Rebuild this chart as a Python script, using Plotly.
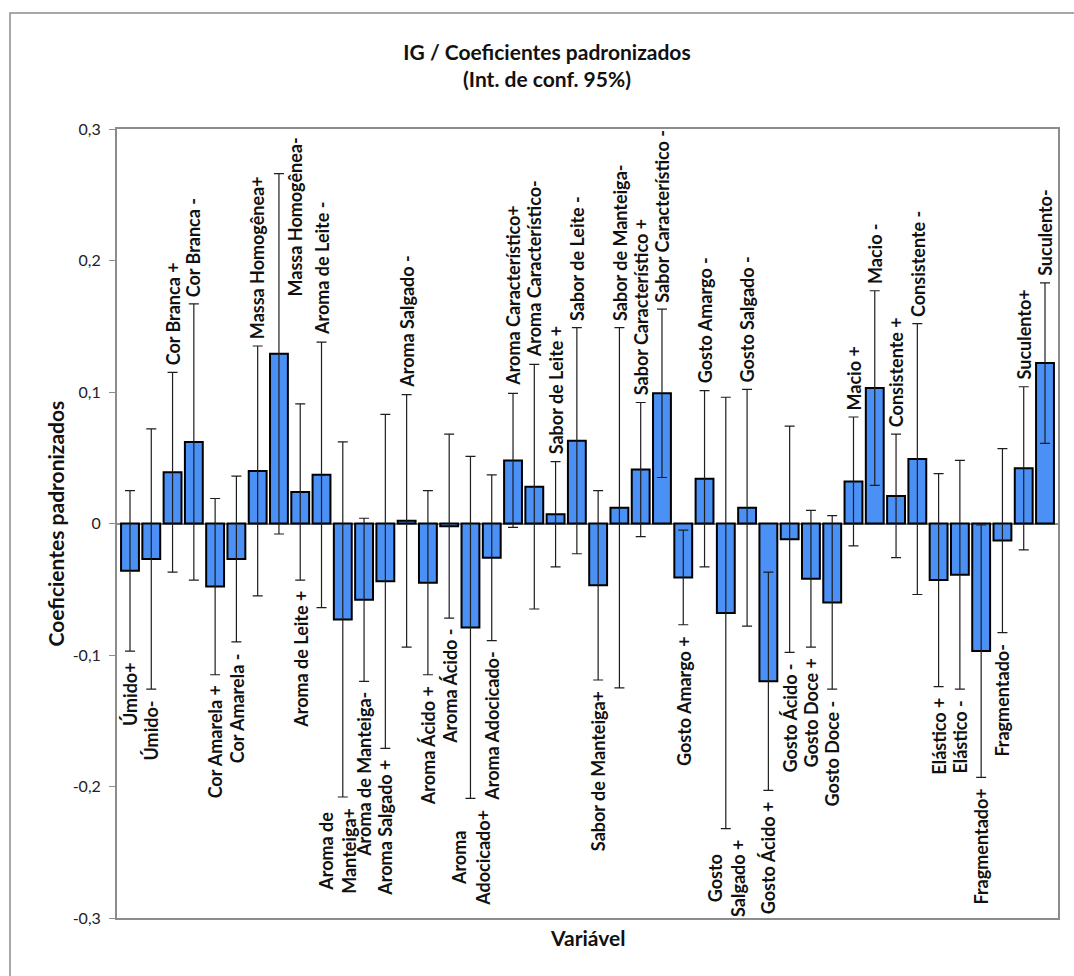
import plotly.graph_objects as go

# Standardized coefficients (IG) with 95% confidence half-widths
variables = [
    "Úmido+", "Úmido-", "Cor Branca +", "Cor Branca -", "Cor Amarela +", "Cor Amarela -",
    "Massa Homogênea+", "Massa Homogênea-", "Aroma de Leite +", "Aroma de Leite -",
    "Aroma de<br>Manteiga+", "Aroma de Manteiga-", "Aroma Salgado +", "Aroma Salgado -",
    "Aroma Ácido +", "Aroma Ácido -", "Aroma<br>Adocicado+", "Aroma Adocicado-",
    "Aroma Característico+", "Aroma Característico-", "Sabor de Leite +", "Sabor de Leite -",
    "Sabor de Manteiga+", "Sabor de Manteiga-", "Sabor Característico +", "Sabor Característico -",
    "Gosto Amargo +", "Gosto Amargo -", "Gosto<br>Salgado +", "Gosto Salgado -",
    "Gosto Ácido +", "Gosto Ácido -", "Gosto Doce +", "Gosto Doce -",
    "Macio +", "Macio -", "Consistente +", "Consistente -",
    "Elástico +", "Elástico -", "Fragmentado+", "Fragmentado-",
    "Suculento+", "Suculento-",
]

coefficients = [
    -0.036, -0.027, 0.039, 0.062, -0.048, -0.027,
    0.040, 0.129, 0.024, 0.037,
    -0.073, -0.058, -0.044, 0.002,
    -0.045, -0.002, -0.079, -0.026,
    0.048, 0.028, 0.007, 0.063,
    -0.047, 0.012, 0.041, 0.099,
    -0.041, 0.034, -0.068, 0.012,
    -0.120, -0.012, -0.042, -0.060,
    0.032, 0.103, 0.021, 0.049,
    -0.043, -0.039, -0.097, -0.013,
    0.042, 0.122,
]

ci_half = [
    0.061, 0.099, 0.076, 0.105, 0.067, 0.063,
    0.095, 0.137, 0.067, 0.101,
    0.135, 0.062, 0.127, 0.096,
    0.070, 0.070, 0.130, 0.063,
    0.051, 0.093, 0.040, 0.086,
    0.072, 0.137, 0.051, 0.064,
    0.036, 0.067, 0.164, 0.090,
    0.083, 0.086, 0.052, 0.066,
    0.049, 0.074, 0.047, 0.103,
    0.081, 0.087, 0.096, 0.070,
    0.062, 0.061,
]

y_ticks = [-0.3, -0.2, -0.1, 0, 0.1, 0.2, 0.3]
y_tick_text = ["-0,3", "-0,2", "-0,1", "0", "0,1", "0,2", "0,3"]

FONT = "Lato, 'Open Sans', sans-serif"
BAR_BLUE = "#4A90F5"
AXIS_GREY = "#8C8C8C"
INK = "#111111"

W, H = 1074, 976
M_L, M_R, M_T, M_B = 117, 16, 129, 58
PLOT_H = H - M_T - M_B
Y_MIN, Y_MAX = y_ticks[0], y_ticks[-1]
PX_PER_UNIT = PLOT_H / (Y_MAX - Y_MIN)

LABEL_SIZE = 18
CHAR_PX = 8.8          # rough advance of the bold label font
GAP_ABOVE, GAP_BELOW = 5, 9


def to_px(v):
    return M_T + (Y_MAX - v) * PX_PER_UNIT


fig = go.Figure(
    go.Bar(
        x=variables,
        y=coefficients,
        width=0.84,
        marker=dict(color=BAR_BLUE, line=dict(color="black", width=2)),
        error_y=dict(type="data", array=ci_half, visible=True,
                     color="#1E1E1E", thickness=1.2, width=5),
        showlegend=False,
    )
)

# --- place rotated data labels beyond the end of each confidence interval ---
placements = []
prev_tucked = False
for v, e in zip(coefficients, ci_half):
    upper, lower = v + e, v - e
    side = "above" if v >= 0 else "below"
    tucked = False
    if side == "above" and upper > 0.2:
        tucked = True            # too tall: put it beside the interval instead
    elif side == "above" and prev_tucked:
        side = "below"           # keep clear of the neighbour tucked beside
    placements.append(dict(side=side, tucked=tucked, upper=upper, lower=lower))
    prev_tucked = tucked


def span(i):
    p = placements[i]
    length = max(len(s) for s in variables[i].split("<br>")) * CHAR_PX
    if p["side"] == "below":
        start = to_px(p["lower"]) + 12
        return start, start + length
    end = to_px(p["upper"]) - 8
    return end - length, end


for i, (name, p) in enumerate(zip(variables, placements)):
    xshift = 0
    if p["tucked"]:
        pos = dict(y=Y_MAX, yanchor="top", yshift=-6)
        xshift = 16
    elif p["side"] == "above":
        pos = dict(y=p["upper"], yanchor="bottom", yshift=GAP_ABOVE)
    else:
        pos = dict(y=p["lower"], yanchor="top", yshift=-GAP_BELOW)
    # wrapped labels step aside when the next label sits on the same side
    if "<br>" in name and i + 1 < len(variables) and placements[i + 1]["side"] == p["side"]:
        a0, a1 = span(i)
        b0, b1 = span(i + 1)
        if a0 < b1 and b0 < a1:
            xshift = -6
    fig.add_annotation(
        x=name, text=name, textangle=-90, showarrow=False, xanchor="center",
        xshift=xshift, align="center",
        font=dict(family=FONT, size=LABEL_SIZE, color=INK, weight="bold"),
        **pos,
    )

# axis titles
fig.add_annotation(
    x=0.5, y=-0.025, xref="paper", yref="paper", text="Variável", showarrow=False,
    xanchor="center", yanchor="middle",
    font=dict(family=FONT, size=21, color=INK, weight="bold"),
)
fig.add_annotation(
    x=-62 / (W - M_L - M_R), y=0.5, xref="paper", yref="paper",
    text="Coeficientes padronizados", textangle=-90, showarrow=False,
    xanchor="center", yanchor="middle",
    font=dict(family=FONT, size=21, color=INK, weight="bold"),
)

# outer chart-area frame
fig.add_shape(type="rect", xref="paper", yref="paper",
              x0=-0.1137, x1=1.3, y0=-0.3, y1=1.147,
              line=dict(color=AXIS_GREY, width=1.5), layer="below")

fig.update_layout(
    width=W, height=H,
    margin=dict(l=M_L, r=M_R, t=M_T, b=M_B),
    paper_bgcolor="white", plot_bgcolor="white",
    bargap=0.16,
    title=dict(
        text="IG / Coeficientes padronizados<br>(Int. de conf. 95%)",
        x=547 / W, xref="container", xanchor="center",
        y=1 - 60 / H, yref="container", yanchor="top",
        font=dict(family=FONT, size=21, color=INK, weight="bold"),
    ),
    xaxis=dict(
        type="category", showticklabels=False, ticks="",
        showline=True, mirror=True, linecolor=AXIS_GREY, linewidth=2,
        showgrid=False, zeroline=False,
    ),
    yaxis=dict(
        range=[Y_MIN, Y_MAX], tickvals=y_ticks, ticktext=y_tick_text,
        ticks="outside", ticklen=6, tickcolor=AXIS_GREY, ticklabelstandoff=5,
        tickfont=dict(family=FONT, size=16, color="#222222"),
        showline=True, mirror=True, linecolor=AXIS_GREY, linewidth=2,
        showgrid=False, zeroline=True, zerolinecolor=AXIS_GREY, zerolinewidth=1.5,
    ),
)

fig.write_html("out.html")
